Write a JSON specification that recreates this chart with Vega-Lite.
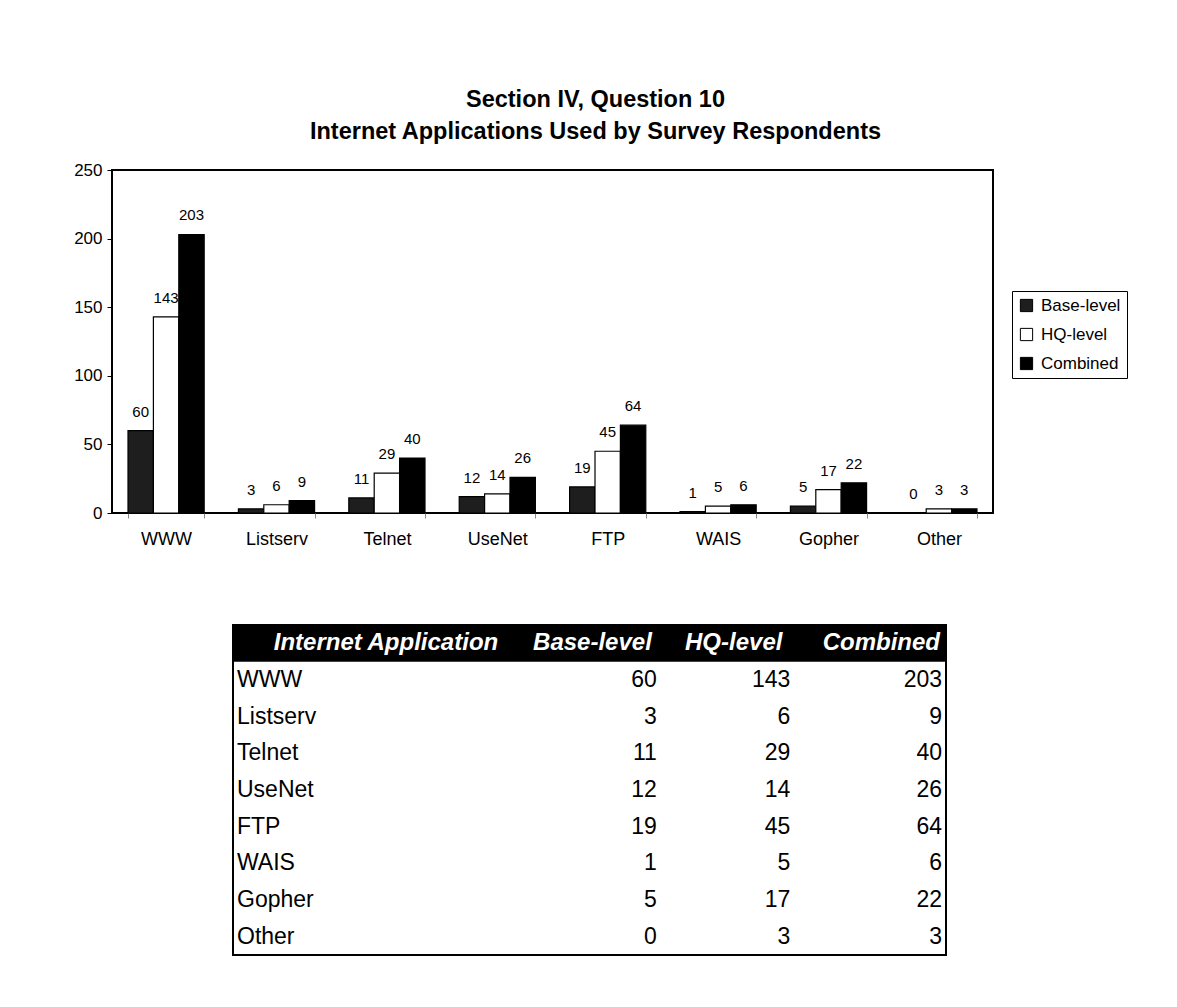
{
  "$schema": "https://vega.github.io/schema/vega-lite/v6.json",
  "background": "white",
  "padding": {"left": 72, "top": 86, "right": 10, "bottom": 10},
  "config": {
    "font": "Liberation Sans",
    "view": {"stroke": "black", "strokeWidth": 2},
    "axis": {"labelColor": "black", "tickColor": "black", "labelFont": "Liberation Sans"},
    "legend": {"labelFont": "Liberation Sans"}
  },
  "datasets": {
    "apps": [
      {"app": "WWW", "Base-level": 60, "HQ-level": 143, "Combined": 203},
      {"app": "Listserv", "Base-level": 3, "HQ-level": 6, "Combined": 9},
      {"app": "Telnet", "Base-level": 11, "HQ-level": 29, "Combined": 40},
      {"app": "UseNet", "Base-level": 12, "HQ-level": 14, "Combined": 26},
      {"app": "FTP", "Base-level": 19, "HQ-level": 45, "Combined": 64},
      {"app": "WAIS", "Base-level": 1, "HQ-level": 5, "Combined": 6},
      {"app": "Gopher", "Base-level": 5, "HQ-level": 17, "Combined": 22},
      {"app": "Other", "Base-level": 0, "HQ-level": 3, "Combined": 3}
    ]
  },
  "spacing": 75,
  "vconcat": [
    {
      "width": 881,
      "height": 343,
      "title": {
        "text": ["Section IV, Question 10", "Internet Applications Used by Survey Respondents"],
        "fontSize": 23.5,
        "fontWeight": "bold",
        "lineHeight": 32,
        "anchor": "middle",
        "frame": "group",
        "dx": 43,
        "offset": 18,
        "color": "black"
      },
      "data": {"name": "apps"},
      "transform": [{"fold": ["Base-level", "HQ-level", "Combined"], "as": ["key", "value"]}],
      "encoding": {
        "x": {
          "field": "app", "type": "nominal", "sort": null,
          "scale": {"paddingInner": 0.31, "paddingOuter": 0.145},
          "axis": {"title": null, "labelAngle": 0, "labelFontSize": 18, "labelPadding": 12, "domain": false, "ticks": true, "tickBand": "extent", "tickSize": 5, "tickColor": "#888888"}
        },
        "xOffset": {
          "field": "key", "type": "nominal", "sort": ["Base-level", "HQ-level", "Combined"],
          "scale": {"paddingInner": 0, "paddingOuter": 0}
        },
        "y": {
          "field": "value", "type": "quantitative",
          "scale": {"domain": [0, 250]},
          "axis": {"title": null, "values": [0, 50, 100, 150, 200, 250], "grid": false, "domain": false, "tickSize": 5, "labelFontSize": 17, "labelPadding": 5}
        }
      },
      "layer": [
        {
          "mark": {"type": "bar", "stroke": "black", "strokeWidth": 1.2},
          "encoding": {
            "color": {
              "field": "key", "type": "nominal",
              "scale": {"domain": ["Base-level", "HQ-level", "Combined"], "range": ["#1e1e1e", "#ffffff", "#000000"]},
              "legend": {
                "title": null, "orient": "none", "legendX": 900, "legendY": 121,
                "strokeColor": "black", "fillColor": "white", "padding": 6,
                "symbolType": "square", "symbolSize": 150, "symbolStrokeColor": "black", "symbolStrokeWidth": 1, "symbolOpacity": 1,
                "labelFontSize": 17, "labelColor": "black", "labelOffset": 6, "rowPadding": 11
              }
            }
          }
        },
        {
          "mark": {"type": "text", "baseline": "alphabetic", "dy": -14, "fontSize": 15, "color": "black"},
          "encoding": {"text": {"field": "value", "type": "quantitative"}}
        }
      ]
    },
    {
      "spacing": 0,
      "hconcat": [
        {
          "width": 120,
          "height": 330,
          "data": {"values": []},
          "mark": {"type": "text"},
          "view": {"stroke": null}
        },
        {
          "width": 713,
          "height": 330,
          "data": {"name": "apps"},
          "layer": [
            {
              "data": {"values": [{"row": "header"}]},
              "mark": {"type": "rect", "color": "black"},
              "encoding": {
                "y": {"datum": "Internet Application", "type": "nominal", "axis": null,
                  "scale": {"type": "band", "domain": ["Internet Application", "WWW", "Listserv", "Telnet", "UseNet", "FTP", "WAIS", "Gopher", "Other"], "paddingInner": 0, "paddingOuter": 0}}
              }
            },
            {
              "data": {"values": [{"row": "header"}]},
              "mark": {"type": "text", "text": "Internet Application", "fontSize": 24, "fontWeight": "bold", "fontStyle": "italic", "color": "white", "align": "right", "baseline": "middle", "dx": -20},
              "encoding": {
                "x": {"datum": "_", "type": "nominal", "bandPosition": 1, "axis": null,
                  "scale": {"type": "band", "domain": ["Internet Application", "_", "Base-level", "HQ-level", "Combined"], "paddingInner": 0, "paddingOuter": 0}},
                "y": {"datum": "Internet Application", "type": "nominal"}
              }
            },
            {
              "data": {"values": [{"row": "header"}]},
              "mark": {"type": "text", "text": "Base-level", "fontSize": 24, "fontWeight": "bold", "fontStyle": "italic", "color": "white", "align": "right", "baseline": "middle", "dx": -9},
              "encoding": {
                "x": {"datum": "Base-level", "type": "nominal", "bandPosition": 1},
                "y": {"datum": "Internet Application", "type": "nominal"}
              }
            },
            {
              "data": {"values": [{"row": "header"}]},
              "mark": {"type": "text", "text": "HQ-level", "fontSize": 24, "fontWeight": "bold", "fontStyle": "italic", "color": "white", "align": "right", "baseline": "middle", "dx": -21},
              "encoding": {
                "x": {"datum": "HQ-level", "type": "nominal", "bandPosition": 1},
                "y": {"datum": "Internet Application", "type": "nominal"}
              }
            },
            {
              "data": {"values": [{"row": "header"}]},
              "mark": {"type": "text", "text": "Combined", "fontSize": 24, "fontWeight": "bold", "fontStyle": "italic", "color": "white", "align": "right", "baseline": "middle", "dx": -6},
              "encoding": {
                "x": {"datum": "Combined", "type": "nominal", "bandPosition": 1},
                "y": {"datum": "Internet Application", "type": "nominal"}
              }
            },
            {
              "mark": {"type": "text", "fontSize": 23, "color": "black", "align": "left", "baseline": "middle", "dx": 4},
              "encoding": {
                "x": {"datum": "Internet Application", "type": "nominal", "bandPosition": 0},
                "y": {"field": "app", "type": "nominal"},
                "text": {"field": "app", "type": "nominal"}
              }
            },
            {
              "mark": {"type": "text", "fontSize": 23, "color": "black", "align": "right", "baseline": "middle", "dx": -4},
              "encoding": {
                "x": {"datum": "Base-level", "type": "nominal", "bandPosition": 1},
                "y": {"field": "app", "type": "nominal"},
                "text": {"field": "Base-level", "type": "quantitative"}
              }
            },
            {
              "mark": {"type": "text", "fontSize": 23, "color": "black", "align": "right", "baseline": "middle", "dx": -13},
              "encoding": {
                "x": {"datum": "HQ-level", "type": "nominal", "bandPosition": 1},
                "y": {"field": "app", "type": "nominal"},
                "text": {"field": "HQ-level", "type": "quantitative"}
              }
            },
            {
              "mark": {"type": "text", "fontSize": 23, "color": "black", "align": "right", "baseline": "middle", "dx": -4},
              "encoding": {
                "x": {"datum": "Combined", "type": "nominal", "bandPosition": 1},
                "y": {"field": "app", "type": "nominal"},
                "text": {"field": "Combined", "type": "quantitative"}
              }
            }
          ]
        }
      ]
    }
  ]
}
